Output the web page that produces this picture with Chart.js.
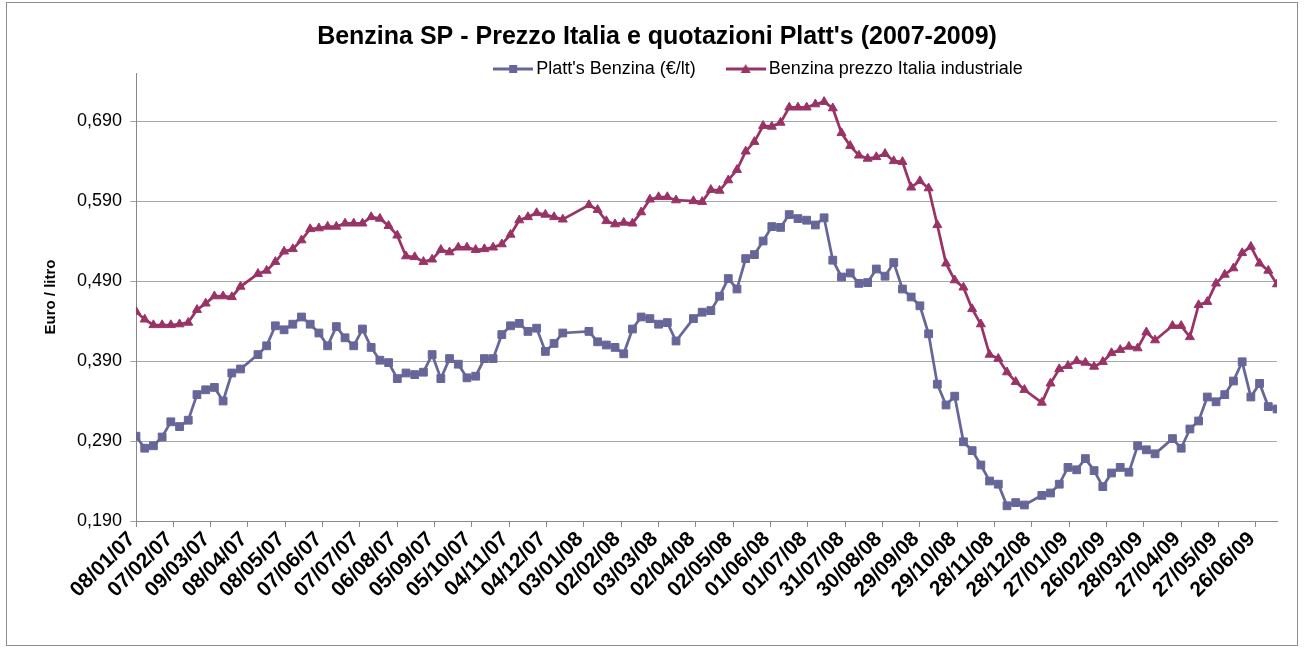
<!DOCTYPE html>
<html>
<head>
<meta charset="utf-8">
<script src="https://cdn.jsdelivr.net/npm/chart.js@4.4.1/dist/chart.umd.min.js"></script>
<style>
html,body{margin:0;padding:0;background:#fff;}
canvas{display:block;}
</style>
</head>
<body>
<canvas id="c" width="1304" height="648"></canvas>
<script>
// ---- data (weekly, dd/mm/yy) ----
const dates = [
 '08/01/07','15/01/07','22/01/07','29/01/07',
 '05/02/07','12/02/07','19/02/07','26/02/07',
 '05/03/07','12/03/07','19/03/07','26/03/07',
 '02/04/07','16/04/07','23/04/07','30/04/07',
 '07/05/07','14/05/07','21/05/07','28/05/07',
 '04/06/07','11/06/07','18/06/07','25/06/07',
 '02/07/07','09/07/07','16/07/07','23/07/07','30/07/07',
 '06/08/07','13/08/07','20/08/07','27/08/07',
 '03/09/07','10/09/07','17/09/07','24/09/07',
 '01/10/07','08/10/07','15/10/07','22/10/07','29/10/07',
 '05/11/07','12/11/07','19/11/07','26/11/07',
 '03/12/07','10/12/07','17/12/07',
 '07/01/08','14/01/08','21/01/08','28/01/08',
 '04/02/08','11/02/08','18/02/08','25/02/08',
 '03/03/08','10/03/08','17/03/08','31/03/08',
 '07/04/08','14/04/08','21/04/08','28/04/08',
 '05/05/08','12/05/08','19/05/08','26/05/08',
 '02/06/08','09/06/08','16/06/08','23/06/08','30/06/08',
 '07/07/08','14/07/08','21/07/08','28/07/08',
 '04/08/08','11/08/08','18/08/08','25/08/08',
 '01/09/08','08/09/08','15/09/08','22/09/08','29/09/08',
 '06/10/08','13/10/08','20/10/08','27/10/08',
 '03/11/08','10/11/08','17/11/08','24/11/08',
 '01/12/08','08/12/08','15/12/08','22/12/08',
 '05/01/09','12/01/09','19/01/09','26/01/09',
 '02/02/09','09/02/09','16/02/09','23/02/09',
 '02/03/09','09/03/09','16/03/09','23/03/09','30/03/09',
 '06/04/09','20/04/09','27/04/09',
 '04/05/09','11/05/09','18/05/09','25/05/09',
 '01/06/09','08/06/09','15/06/09','22/06/09','29/06/09',
 '06/07/09','13/07/09'
];

const plattsBenzina = [
 0.296,0.281,0.284,0.295,
 0.314,0.308,0.316,0.348,
 0.354,0.357,0.340,0.375,
 0.380,0.398,0.409,0.434,
 0.429,0.436,0.445,0.436,
 0.425,0.409,0.433,0.419,
 0.409,0.430,0.407,0.391,0.388,
 0.368,0.375,0.373,0.376,
 0.398,0.368,0.393,0.386,
 0.369,0.371,0.393,0.393,0.423,
 0.434,0.437,0.427,0.431,
 0.402,0.412,0.425,
 0.427,0.414,0.410,0.407,
 0.399,0.430,0.445,0.443,
 0.436,0.438,0.415,0.443,
 0.451,0.453,0.471,0.493,
 0.480,0.518,0.523,0.540,
 0.558,0.557,0.573,0.568,0.566,
 0.560,0.569,0.516,0.495,
 0.500,0.487,0.488,0.505,
 0.496,0.513,0.480,0.470,0.459,
 0.424,0.361,0.335,0.346,
 0.289,0.278,0.260,0.240,
 0.236,0.209,0.213,0.210,
 0.222,0.225,0.236,0.257,
 0.254,0.268,0.253,0.233,
 0.250,0.257,0.251,0.284,0.279,
 0.274,0.293,0.281,
 0.305,0.315,0.345,0.339,
 0.348,0.365,0.389,0.345,0.362,
 0.333,0.330
];

const prezzoItalia = [
 0.452,0.442,0.435,0.435,
 0.435,0.436,0.438,0.454,
 0.462,0.471,0.471,0.470,
 0.483,0.499,0.503,0.514,
 0.527,0.530,0.541,0.555,
 0.556,0.558,0.558,0.562,
 0.562,0.562,0.570,0.568,0.559,
 0.547,0.521,0.520,0.514,
 0.517,0.529,0.526,0.532,
 0.532,0.529,0.530,0.532,0.536,
 0.548,0.566,0.570,0.575,
 0.573,0.570,0.567,
 0.585,0.579,0.565,0.561,
 0.563,0.562,0.576,0.592,
 0.595,0.595,0.591,0.590,
 0.589,0.604,0.603,0.616,
 0.629,0.652,0.664,0.684,
 0.683,0.688,0.707,0.707,0.707,
 0.711,0.714,0.706,0.675,
 0.659,0.647,0.643,0.645,
 0.649,0.640,0.639,0.607,0.615,
 0.606,0.560,0.512,0.491,
 0.482,0.455,0.436,0.398,
 0.393,0.376,0.364,0.354,
 0.338,0.362,0.380,0.384,
 0.390,0.388,0.383,0.389,
 0.400,0.404,0.408,0.406,0.426,
 0.416,0.434,0.434,
 0.420,0.460,0.464,0.487,
 0.498,0.506,0.525,0.533,0.512,
 0.503,0.486
];

const xTickLabels = [
 '08/01/07','07/02/07','09/03/07','08/04/07','08/05/07','07/06/07','07/07/07',
 '06/08/07','05/09/07','05/10/07','04/11/07','04/12/07','03/01/08','02/02/08',
 '03/03/08','02/04/08','02/05/08','01/06/08','01/07/08','31/07/08','30/08/08',
 '29/09/08','29/10/08','28/11/08','28/12/08','27/01/09','26/02/09','28/03/09',
 '27/04/09','27/05/09','26/06/09'
];
const yTickValues = [0.19, 0.29, 0.39, 0.49, 0.59, 0.69];

const seriesNames = ["Platt's Benzina (\u20AC/lt)", 'Benzina prezzo Italia industriale'];
const chartTitle = "Benzina SP - Prezzo Italia e quotazioni Platt's (2007-2009)";
const yAxisTitle = 'Euro / litro';

// ---- helpers ----
function dayNum(s){ const p = s.split('/').map(Number); return Date.UTC(2000 + p[2], p[1] - 1, p[0]) / 86400000; }
const day0 = dayNum(dates[0]);
const xs = dates.map(s => dayNum(s) - day0);
const xTickDays = xTickLabels.map(s => dayNum(s) - day0);

const FONT = "'Liberation Sans', Arial, Helvetica, sans-serif";
const BLUE = '#666699';
const RED = '#993366';

Chart.defaults.font.family = FONT;
Chart.defaults.color = '#000';

function legendIcon(color, shape){
  const c = document.createElement('canvas');
  c.width = 40; c.height = 12;
  const g = c.getContext('2d');
  g.strokeStyle = color; g.lineWidth = 3;
  g.beginPath(); g.moveTo(0, 6); g.lineTo(40, 6); g.stroke();
  g.fillStyle = color;
  if (shape === 'rect') { g.fillRect(16, 2, 8, 8); }
  else { g.beginPath(); g.moveTo(20, 1); g.lineTo(25, 10); g.lineTo(15, 10); g.closePath(); g.fill(); }
  return c;
}
const icons = [legendIcon(BLUE, 'rect'), legendIcon(RED, 'tri')];

const frame = {
  id: 'frame',
  beforeDraw(chart){
    const ctx = chart.ctx;
    ctx.save();
    ctx.fillStyle = '#fff';
    ctx.fillRect(0, 0, chart.width, chart.height);
    ctx.strokeStyle = '#8c8c8c';
    ctx.lineWidth = 1;
    ctx.strokeRect(6.5, 2.5, 1291, 643);
    ctx.restore();
  }
};
const legendShift = {
  id: 'legendShift',
  afterLayout(chart){
    const lg = chart.legend;
    if (lg) {
      lg.left += 104; lg.right += 104;
      lg.bottom += 24; lg.height += 24;
    }
  }
};

new Chart(document.getElementById('c'), {
  type: 'line',
  data: {
    datasets: [
      {
        label: seriesNames[0],
        data: xs.map((x, i) => ({x: x, y: plattsBenzina[i]})),
        borderColor: BLUE, backgroundColor: BLUE,
        borderWidth: 2.75, tension: 0,
        pointStyle: 'rect', pointRadius: 5.5, pointBorderWidth: 1,
        pointBackgroundColor: BLUE, pointBorderColor: BLUE
      },
      {
        label: seriesNames[1],
        data: xs.map((x, i) => ({x: x, y: prezzoItalia[i]})),
        borderColor: RED, backgroundColor: RED,
        borderWidth: 2.75, tension: 0,
        pointStyle: 'triangle', pointRadius: 5.2, pointBorderWidth: 1,
        pointBackgroundColor: RED, pointBorderColor: RED
      }
    ]
  },
  options: {
    responsive: false,
    animation: false,
    devicePixelRatio: 1,
    layout: {padding: {left: 37, right: 27, top: 0, bottom: 0}},
    plugins: {
      title: {
        display: true, text: chartTitle, color: '#000',
        font: {size: 25, weight: 'bold', family: FONT},
        padding: {top: 22, bottom: -28}
      },
      legend: {
        display: true, position: 'top', maxHeight: 49,
        labels: {
          usePointStyle: true, pointStyleWidth: 28, padding: 36,
          color: '#000', font: {size: 18, family: FONT},
          generateLabels(chart){
            const items = Chart.defaults.plugins.legend.labels.generateLabels(chart);
            items.forEach(it => { it.pointStyle = icons[it.datasetIndex]; });
            return items;
          }
        }
      },
      tooltip: {enabled: false}
    },
    scales: {
      x: {
        type: 'linear',
        min: xs[0], max: xs[xs.length - 1],
        afterBuildTicks(s){ s.ticks = xTickDays.map(v => ({value: v})); },
        afterFit(s){ s.height = 127; },
        grid: {drawOnChartArea: false, drawTicks: true, tickLength: 6, color: '#888'},
        border: {color: '#888', width: 1},
        ticks: {
          autoSkip: false, maxRotation: 45, minRotation: 45, padding: 0, labelOffset: -4,
          color: '#000', font: {size: 21, weight: 'bold', family: FONT},
          callback: (v, i) => xTickLabels[i]
        }
      },
      y: {
        type: 'linear',
        min: 0.19, max: 0.75,
        afterBuildTicks(s){ s.ticks = yTickValues.map(v => ({value: v})); },
        afterFit(s){ s.width = 99; },
        grid: {color: '#a6a6a6', lineWidth: 1, tickLength: 6},
        border: {color: '#888', width: 1},
        ticks: {
          padding: 8, color: '#000', font: {size: 18, family: FONT},
          callback: v => Number(v).toFixed(3).replace('.', ',')
        },
        title: {
          display: true, text: yAxisTitle, color: '#000',
          font: {size: 15, weight: 'bold', family: FONT},
          padding: {top: 5, bottom: 0}
        }
      }
    }
  },
  plugins: [frame, legendShift]
});
</script>
</body>
</html>
